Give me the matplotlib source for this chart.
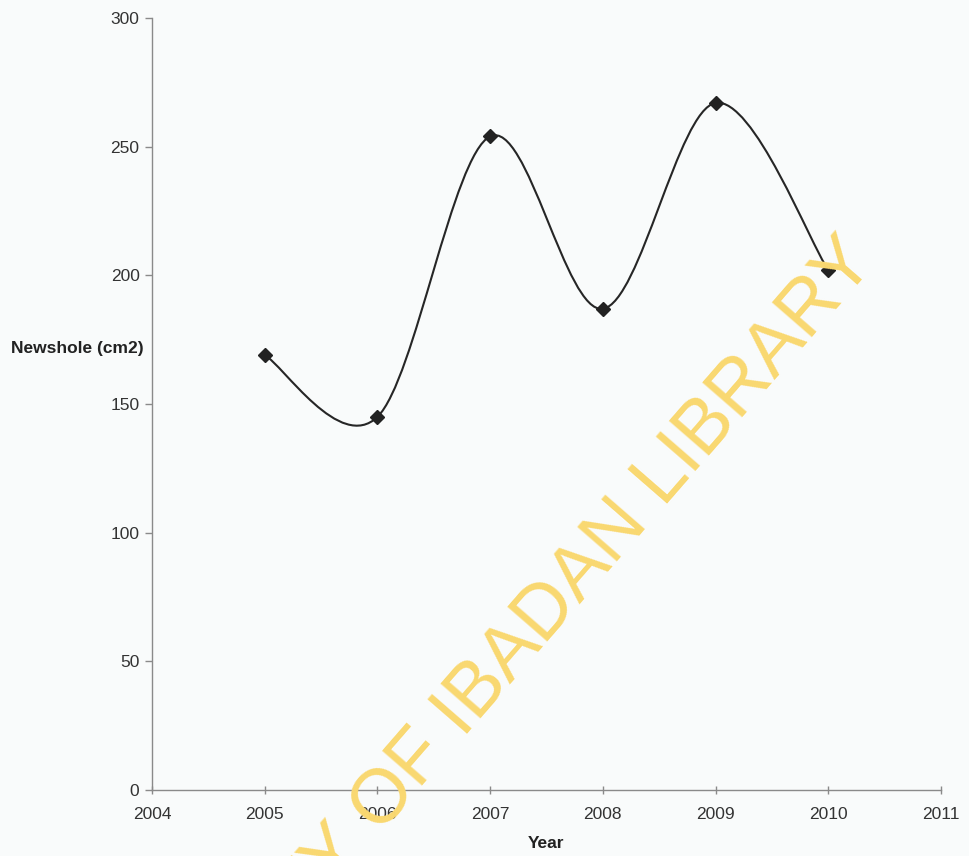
import numpy as np
import matplotlib.pyplot as plt
from matplotlib.path import Path
from matplotlib.patches import PathPatch

# data
years = [2005, 2006, 2007, 2008, 2009, 2010]
newshole = [169, 145, 254, 187, 267, 202]
x_ticks = [2004, 2005, 2006, 2007, 2008, 2009, 2010, 2011]
y_ticks = [0, 50, 100, 150, 200, 250, 300]

plt.rcParams['font.family'] = ['Liberation Sans', 'DejaVu Sans']

fig = plt.figure(figsize=(9.69, 8.56), dpi=100, facecolor='#f9fbfb')
ax = fig.add_axes([152 / 969, 66 / 856, 789 / 969, 772 / 856])
ax.set_facecolor('#f9fbfb')


# smoothed line like a spreadsheet chart (Catmull-Rom as Bezier segments)
def smooth_path(xs, ys):
    p = np.column_stack([xs, ys]).astype(float)
    n = len(p)
    verts = [p[0]]
    codes = [Path.MOVETO]
    for i in range(n - 1):
        prev = p[i - 1] if i > 0 else p[i]
        nxt = p[i + 2] if i + 2 < n else p[i + 1]
        c1 = p[i] + (p[i + 1] - prev) / 6
        c2 = p[i + 1] - (nxt - p[i]) / 6
        verts += [c1, c2, p[i + 1]]
        codes += [Path.CURVE4] * 3
    return Path(verts, codes)


ax.add_patch(PathPatch(smooth_path(years, newshole), fill=False,
                       edgecolor='#262626', linewidth=1.5, zorder=3))
ax.plot(years, newshole, linestyle='none', marker='D', markersize=7,
        color='#222222', zorder=4)

ax.set_xlim(2004, 2011)
ax.set_ylim(0, 300)
ax.set_xticks(x_ticks)
ax.set_yticks(y_ticks)

for s in ['top', 'right']:
    ax.spines[s].set_visible(False)
for s in ['left', 'bottom']:
    ax.spines[s].set_color('#8a8a8a')
    ax.spines[s].set_linewidth(1.0)

ax.tick_params(axis='y', direction='out', length=5, width=1, color='#8a8a8a',
               labelsize=12.5, labelcolor='#333333', pad=4)
ax.tick_params(axis='x', direction='inout', length=6, width=1, color='#8a8a8a',
               labelsize=12.5, labelcolor='#333333', pad=9)

ax.set_xlabel('Year', fontsize=12.5, fontweight='bold', color='#222222', labelpad=10)
ax.set_ylabel('Newshole (cm2)', fontsize=12.5, fontweight='bold', color='#222222',
              rotation=0, ha='right', va='center')
ax.yaxis.set_label_coords(-0.011, 0.5725)

# watermark
fig.text(877 / 969, 1 - 263 / 856, 'UNIVERSITY OF IBADAN LIBRARY', fontsize=55,
         color='#fad870', rotation=49, rotation_mode='anchor', ha='right',
         va='baseline', zorder=10)

fig.savefig('out.png', dpi=100, facecolor=fig.get_facecolor())
